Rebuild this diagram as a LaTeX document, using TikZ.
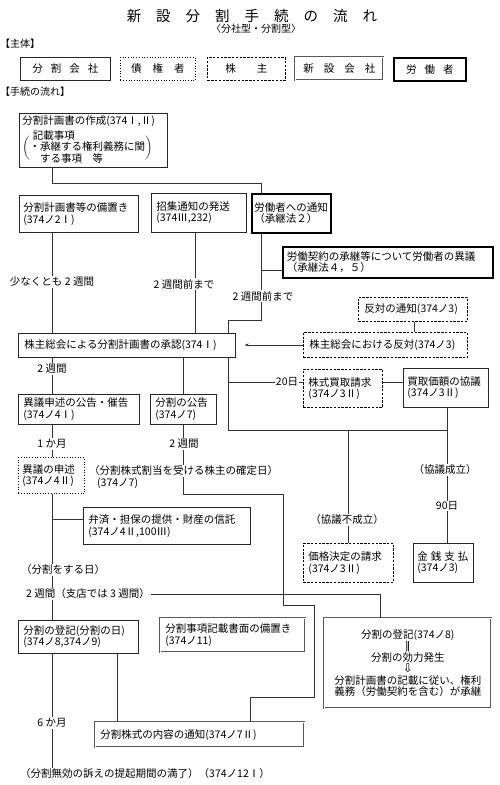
\documentclass[tikz,border=0pt]{standalone}
\usepackage{fontspec}
\setmainfont{Noto Sans CJK JP}
\newfontfamily\symfnt{DejaVu Sans}
\usetikzlibrary{calc,arrows.meta}
\begin{document}
\begin{tikzpicture}[x=1pt,y=-1pt,
  every node/.style={font=\fontsize{10.5}{11.5}\selectfont, inner sep=0pt},
  bx/.style={draw=black!85, line width=0.7pt, inner xsep=5pt, inner ysep=0pt, align=left, anchor=north west},
  dotbx/.style={bx, draw=black, dotted, line width=0.8pt},
  dashbx/.style={bx, draw=black, dash pattern=on 2.4pt off 1.4pt, line width=0.9pt},
  newbx/.style={bx, draw=black!65, double=white, double distance=0.9pt, line width=0.6pt},
  workbx/.style={bx, draw=black, line width=1.6pt},
  lbl/.style={fill=white, inner xsep=1pt, inner ysep=1pt},
  ln/.style={draw=black!80, line width=0.6pt},
]
\useasboundingbox (0,0) rectangle (500,785);
\fill[white] (0,0) rectangle (500,785);

% ---- title and headings
\node[font=\fontsize{14.5}{16}\selectfont] (title) at (252,16) {新\hspace{15pt}設\hspace{15pt}分\hspace{15pt}割\hspace{15pt}手\hspace{15pt}続\hspace{15pt}の\hspace{15pt}流\hspace{15pt}れ};
\node[font=\fontsize{10}{11}\selectfont] (sub) at (256,29) {〈分社型・分割型〉};
\node[anchor=west, font=\fontsize{10}{11}\selectfont] (hd1) at (0,44) {【主体】};
\node[anchor=west, font=\fontsize{10}{11}\selectfont] (hd2) at (0,92) {【手続の流れ】};

% ---- legend
\node[bx, align=center, text width=80pt, minimum height=23pt] (k1) at (20,57) {分\hspace{8pt}割\hspace{8pt}会\hspace{8pt}社};
\node[dotbx, align=center, text width=65pt, minimum height=23pt] (k2) at (120,57) {債\hspace{11pt}権\hspace{11pt}者};
\node[dashbx, align=center, text width=68pt, minimum height=23pt] (k3) at (207,57) {株\hspace{21pt}主};
\node[newbx, align=center, text width=78pt, minimum height=23pt] (k4) at (295,57) {新\hspace{10pt}設\hspace{10pt}会\hspace{10pt}社};
\node[workbx, align=center, text width=62pt, minimum height=23pt] (k5) at (393,57) {労\hspace{8pt}働\hspace{8pt}者};

% ---- flow boxes
\node[bx, inner xsep=3pt, text width=142pt, minimum height=54pt] (A) at (19,113)
  {\renewcommand{\arraystretch}{0.8}分割計画書の作成(374Ⅰ,Ⅱ)\\[3pt]$\biggl(\vcenter{\hbox{\begin{tabular}{@{}l@{}}\hspace{0.3em}記載事項\\・承継する権利義務に関\\\hspace{1em}する事項\hspace{1em}等\end{tabular}}}\biggr)$};
\node[bx, inner xsep=4pt, text width=111pt, minimum height=37pt] (B) at (19,195) {分割計画書等の備置き\\(374ノ2Ⅰ)};
\node[bx, text width=85pt, minimum height=39pt] (C) at (151,193) {招集通知の発送\\(374Ⅲ,232)};
\node[workbx, inner xsep=2.5pt, text width=74pt, minimum height=39pt] (D) at (251,193) {労働者への通知\\（承継法２）};
\node[workbx, inner xsep=4pt, text width=202pt, minimum height=31pt] (E) at (282,246) {労働契約の承継等について労働者の異議\\（承継法４，５）};
\node[bx, inner xsep=6pt, text width=205pt, minimum height=24pt] (F) at (18,333) {株主総会による分割計画書の承認(374Ⅰ)};
\node[dashbx, inner xsep=6pt, text width=97pt, minimum height=24pt] (G) at (358,297) {反対の通知(374ノ3)};
\node[dashbx, inner xsep=6pt, text width=152pt, minimum height=25pt] (H) at (303,332) {株主総会における反対(374ノ3)};
\node[bx, text width=111pt, minimum height=30pt] (I) at (18,394) {異議申述の公告・催告\\(374ノ4Ⅰ)};
\node[bx, text width=56pt, minimum height=30pt] (J) at (150,394) {分割の公告\\(374ノ7)};
\node[dashbx, text width=69pt, minimum height=38pt] (K) at (303,369) {株式買取請求\\(374ノ3Ⅱ)};
\node[bx, inner xsep=4pt, text width=77pt, minimum height=39pt] (L) at (403,368) {買取価額の協議\\(374ノ3Ⅱ)};
\node[dotbx, inner xsep=4pt, text width=58pt, minimum height=36pt] (M) at (18,457) {異議の申述\\(374ノ4Ⅱ)};
\node[bx, text width=157pt, minimum height=37pt] (N) at (83,507) {弁済・担保の提供・財産の信託\\(374ノ4Ⅱ,100Ⅲ)};
\node[dashbx, text width=80pt, minimum height=39pt] (O) at (303,543) {価格決定の請求\\(374ノ3Ⅱ)};
\node[bx, inner xsep=4pt, text width=52pt, minimum height=39pt] (P) at (413,543) {金\hspace{3pt}銭\hspace{3pt}支\hspace{3pt}払\\(374ノ3)};
\node[bx, text width=110pt, minimum height=33pt] (Q) at (18,620) {分割の登記(分割の日)\\(374ノ8,374ノ9)};
\node[newbx, text width=135pt, minimum height=34pt] (R) at (160,618) {分割事項記載書面の備置き\\(374ノ11)};
\node[newbx, align=center, text width=157pt, minimum height=90pt] (S) at (324,618)
  {分割の登記(374ノ8)\\{\symfnt ‖}\\分割の効力発生\\{\symfnt\fontsize{12}{11.5}\selectfont ⇩}\\分割計画書の記載に従い、権利\\義務（労働契約を含む）が承継};
\node[newbx, text width=199pt, minimum height=25pt] (T) at (95,722) {分割株式の内容の通知(374ノ7Ⅱ)};

% ---- guide coordinates
\coordinate (xL) at (52,0);
\coordinate (xQ) at (117,0);
\coordinate (xJ) at (183,0);
\coordinate (xC) at (195,0);
\coordinate (xF) at (228,0);
\coordinate (xT) at (250,0);
\coordinate (xD) at (261,0);
\coordinate (xK) at (283,0);
\coordinate (xM) at (314,0);
\coordinate (xO) at (348,0);
\coordinate (xS) at (380,0);
\coordinate (xG) at (414,0);
\coordinate (xP) at (447,0);
\coordinate (y183) at (0,183);
\coordinate (y270) at (0,270);
\coordinate (y320) at (0,320);
\coordinate (y382) at (0,382);
\coordinate (y430) at (0,430);
\coordinate (y494) at (0,494);
\coordinate (y519) at (0,519);
\coordinate (y594) at (0,594);
\coordinate (y605) at (0,605);
\coordinate (y697) at (0,697);
\coordinate (y768) at (0,768);

% ---- connectors
\draw[ln] (A.south -| xL) -- (xL |- y183) -- (xD |- y183) -- (D.north -| xD);
\draw[ln] (B.south -| xL) -- (F.north -| xL);
\draw[ln] (C.south -| xC) -- (F.north -| xC);
\draw[ln] (D.south -| xD) -- (xD |- y320) -- (xF |- y320) -- (F.north -| xF);
\draw[ln] (xD |- y270) -- (E.west |- y270);
\draw[ln] (G.south -| xG) -- (H.north -| xG);
\draw[ln, -{Stealth[length=4pt,width=3pt]}, shorten >=9pt] (H.west) -- (H.west -| F.east);
\draw[ln] (F.south -| xF) -- (xF |- y430) -- (xP |- y430);
\draw[ln] (L.south -| xP) -- (P.north -| xP);
\draw[ln] (xO |- y430) -- (O.north -| xO);
\draw[ln] (xF |- y382) -- (K.west |- y382);
\draw[ln] (K.east |- y382) -- (L.west |- y382);
\draw[ln] (F.south -| xL) -- (I.north -| xL);
\draw[ln] (F.south -| xJ) -- (J.north -| xJ);
\draw[ln] (I.south -| xL) -- (M.north -| xL);
\draw[ln] (M.south -| xL) -- (Q.north -| xL);
\draw[ln] (xL |- y519) -- (N.west |- y519);
\draw[ln] (J.south -| xJ) -- (xJ |- y494) -- (xK |- y494) -- (xK |- y605) -- (xM |- y605) -- (xM |- y697) -- (xT |- y697) -- (T.north -| xT);
\draw[ln] (xL |- y594) -- (xS |- y594) -- (S.north -| xS);
\draw[ln] (Q.south -| xQ) -- (T.north -| xQ);
\coordinate (end6) at (xL |- y768);
\draw[ln] (Q.south -| xL) -- (end6);

% ---- labels
\node[lbl] (t1) at (52,282) {少なくとも 2 週間};
\node[lbl] (t2) at (184,284) {2 週間前まで};
\node[lbl] (t3) at (263,296) {2 週間前まで};
\node[lbl] (t4) at (52,369) {2 週間};
\node[lbl] (t5) at (287,382) {20日};
\node[lbl] (t6) at (52,444) {1 か月};
\node[lbl] (t7) at (184,444) {2 週間};
\node[lbl, anchor=west] (t8) at (88,471) {（分割株式割当を受ける株主の確定日）};
\node[anchor=west] (t9) at (97,483) {(374ノ7)};
\node[lbl] (t10) at (445,470) {（協議成立）};
\node[lbl] (t11) at (447,506) {90日};
\node[lbl] (t12) at (347,520) {（協議不成立）};
\node[lbl, anchor=west] (t13) at (20,570) {（分割をする日）};
\node[lbl, anchor=west] (t14) at (25,594) {2 週間（支店では 3 週間）};
\node[lbl] (t15) at (52,723) {6 か月};
\node[anchor=west] (t16) at (20,773) {（分割無効の訴えの提起期間の満了）（374ノ12Ⅰ）};
\end{tikzpicture}
\end{document}
